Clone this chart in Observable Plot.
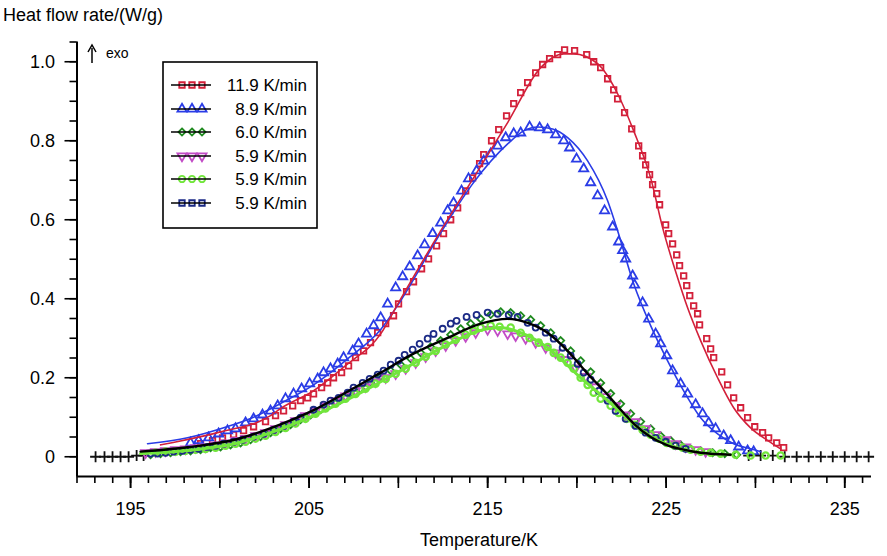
<!DOCTYPE html>
<html><head><meta charset="utf-8">
<script src="https://cdn.jsdelivr.net/npm/d3@7"></script>
<script src="https://cdn.jsdelivr.net/npm/@observablehq/plot@0.6"></script>
<style>body{margin:0;background:#fff;} svg{display:block;}</style>
</head><body><div id="chart"></div>
<script>
// ---- data (Temperature/K, Heat flow rate W/g) ----
const seriesLabels = ["11.9 K/min","8.9 K/min","6.0 K/min","5.9 K/min","5.9 K/min","5.9 K/min"];
const xTickLabels = [195,205,215,225,235];
const yTickLabels = [0,0.2,0.4,0.6,0.8,1.0];

const rate119 = [[198.92,0.033],[199.59,0.041],[200.15,0.048],[200.77,0.056],[201.33,0.066],[201.89,0.076],[202.56,0.089],[203.12,0.104],[203.57,0.116],[204.08,0.129],[204.52,0.142],[204.92,0.149],[205.25,0.159],[205.70,0.175],[206.04,0.187],[206.37,0.200],[206.82,0.213],[207.21,0.230],[207.60,0.251],[208.05,0.268],[208.44,0.289],[208.84,0.314],[209.29,0.337],[209.73,0.357],[210.01,0.387],[210.46,0.418],[210.85,0.443],[211.30,0.476],[211.69,0.501],[212.14,0.534],[212.53,0.565],[212.93,0.600],[213.32,0.630],[213.77,0.673],[214.16,0.706],[214.55,0.742],[214.78,0.765],[215.22,0.800],[215.62,0.828],[216.06,0.863],[216.46,0.894],[216.85,0.922],[217.24,0.947],[217.69,0.972],[218.08,0.993],[218.47,1.008],[218.92,1.018],[219.31,1.030],[219.87,1.028],[220.55,1.018],[220.94,1.000],[221.33,0.985],[221.72,0.957],[222.06,0.929],[222.28,0.906],[222.67,0.871],[223.07,0.830],[223.46,0.787],[223.68,0.762],[223.85,0.739],[224.07,0.714],[224.24,0.689],[224.47,0.666],[224.63,0.638],[224.97,0.587],[225.14,0.565],[225.36,0.539],[225.59,0.511],[225.75,0.484],[225.98,0.458],[226.15,0.433],[226.32,0.408],[226.54,0.382],[226.76,0.362],[226.87,0.334],[227.27,0.299],[227.49,0.273],[227.66,0.251],[228.11,0.215],[228.44,0.182],[228.78,0.149],[229.17,0.124],[229.56,0.099],[229.96,0.076],[230.40,0.061],[230.74,0.048],[231.19,0.035],[231.58,0.023]];

const rate89 = [[198.36,0.035],[198.81,0.041],[199.37,0.048],[199.93,0.058],[200.43,0.066],[200.88,0.071],[201.44,0.086],[201.89,0.096],[202.39,0.106],[202.84,0.116],[203.24,0.129],[203.68,0.147],[204.13,0.159],[204.58,0.172],[205.03,0.185],[205.48,0.197],[205.81,0.213],[206.20,0.223],[206.60,0.235],[206.93,0.251],[207.44,0.268],[207.77,0.286],[208.22,0.311],[208.61,0.332],[209.01,0.352],[209.40,0.387],[209.85,0.428],[210.24,0.456],[210.63,0.481],[211.08,0.509],[211.47,0.537],[211.92,0.565],[212.37,0.592],[212.76,0.623],[213.09,0.643],[213.54,0.673],[213.93,0.704],[214.38,0.724],[214.78,0.749],[215.17,0.767],[215.56,0.787],[216.01,0.808],[216.46,0.818],[216.85,0.820],[217.35,0.835],[217.91,0.833],[218.36,0.828],[218.81,0.815],[219.26,0.800],[219.59,0.782],[219.98,0.754],[220.38,0.729],[220.77,0.694],[221.16,0.661],[221.55,0.623],[222.00,0.582],[222.34,0.544],[222.56,0.522],[222.73,0.501],[223.12,0.458],[223.23,0.435],[223.68,0.390],[224.02,0.349],[224.41,0.311],[224.69,0.286],[225.03,0.256],[225.36,0.218],[225.81,0.185],[226.20,0.159],[226.65,0.132],[227.04,0.109],[227.38,0.086],[227.77,0.071],[228.22,0.053],[228.61,0.041],[229.06,0.025],[229.56,0.015],[229.90,0.013]];

const rate60 = [[193.04,0],[193.54,0],[193.99,0],[194.44,0],[194.89,0],[195.34,0.003],[195.73,0.003],[196.12,0.005],[196.68,0.008],[197.24,0.010],[197.80,0.013],[198.36,0.015],[198.92,0.018],[199.48,0.023],[200.04,0.025],[200.60,0.030],[201.16,0.035],[201.72,0.043],[202.28,0.051],[202.84,0.061],[203.40,0.071],[203.96,0.081],[204.52,0.094],[205.08,0.106],[205.64,0.119],[206.20,0.132],[206.76,0.144],[207.32,0.160],[207.88,0.172],[208.44,0.187],[209.01,0.203],[209.57,0.218],[210.13,0.233],[210.69,0.248],[211.25,0.263],[211.81,0.278],[212.37,0.294],[212.93,0.309],[213.49,0.324],[214.05,0.337],[214.61,0.349],[215.17,0.360],[215.73,0.367],[216.29,0.365],[216.85,0.357],[217.41,0.347],[217.97,0.332],[218.53,0.314],[219.09,0.294],[219.65,0.268],[220.21,0.243],[220.77,0.215],[221.33,0.187],[221.89,0.160],[222.45,0.134],[223.01,0.109],[223.57,0.089],[224.13,0.071],[224.69,0.053],[225.25,0.041],[225.81,0.030],[226.37,0.020],[226.93,0.015],[227.60,0.010],[228.28,0.008],[228.95,0.005],[229.62,0.003],[230.29,0.003],[230.97,0.003],[231.64,0],[232.31,0],[232.98,0],[233.66,0],[234.33,0],[235.00,0],[235.67,0],[236.34,0]];

const rate59a = [[195.84,0.010],[196.40,0.013],[196.96,0.015],[197.52,0.018],[198.08,0.020],[198.64,0.023],[199.20,0.025],[199.76,0.030],[200.32,0.035],[200.88,0.041],[201.44,0.046],[202.00,0.053],[202.56,0.061],[203.12,0.071],[203.68,0.081],[204.24,0.091],[204.80,0.104],[205.36,0.116],[205.92,0.129],[206.48,0.142],[207.04,0.154],[207.60,0.167],[208.16,0.177],[208.72,0.190],[209.29,0.200],[209.85,0.210],[210.41,0.223],[210.97,0.238],[211.53,0.253],[212.09,0.268],[212.65,0.281],[213.21,0.294],[213.77,0.304],[214.33,0.314],[215.00,0.322],[215.56,0.319],[216.12,0.311],[216.57,0.306],[217.13,0.299],[217.69,0.289],[218.25,0.276],[218.81,0.263],[219.37,0.246],[219.93,0.225],[220.49,0.203],[221.05,0.177],[221.61,0.152],[222.17,0.129],[222.73,0.106],[223.29,0.089],[223.85,0.071],[224.41,0.056],[224.97,0.043],[225.53,0.033],[226.09,0.025],[226.65,0.018],[227.21,0.013]];

const rate59b = [[196.40,0.010],[196.96,0.013],[197.52,0.013],[198.08,0.015],[198.64,0.018],[199.20,0.020],[199.76,0.023],[200.32,0.028],[200.88,0.033],[201.44,0.038],[202.00,0.046],[202.56,0.053],[203.12,0.063],[203.68,0.073],[204.24,0.084],[204.80,0.096],[205.36,0.109],[205.92,0.122],[206.48,0.134],[207.04,0.147],[207.60,0.159],[208.16,0.172],[208.72,0.185],[209.29,0.197],[209.85,0.210],[210.41,0.223],[210.97,0.238],[211.53,0.253],[212.09,0.268],[212.65,0.284],[213.21,0.296],[213.77,0.309],[214.21,0.319],[214.61,0.327],[215.17,0.332],[215.67,0.329],[216.29,0.327],[216.85,0.314],[217.35,0.301],[217.86,0.289],[218.36,0.278],[218.70,0.263],[219.09,0.251],[219.48,0.238],[219.82,0.223],[220.21,0.200],[220.60,0.182],[220.94,0.162],[221.33,0.147],[221.89,0.129],[222.34,0.111],[222.79,0.096],[223.23,0.081],[223.68,0.068],[224.13,0.056],[224.58,0.046],[225.03,0.035],[225.47,0.028],[225.92,0.023],[226.37,0.018],[226.93,0.013],[227.49,0.010],[228.05,0.008],[228.89,0.005],[229.73,0.003],[230.57,0.003],[231.41,0.003]];

const rate59c = [[196.12,0.008],[196.51,0.008],[196.96,0.010],[197.41,0.013],[197.91,0.015],[198.36,0.018],[198.81,0.020],[199.31,0.025],[199.76,0.028],[200.21,0.033],[200.77,0.038],[201.27,0.043],[201.89,0.051],[202.45,0.058],[203.01,0.068],[203.57,0.078],[204.13,0.089],[204.52,0.099],[205.25,0.119],[205.81,0.132],[206.20,0.142],[206.65,0.149],[207.16,0.162],[207.49,0.175],[208.00,0.187],[208.39,0.197],[208.84,0.208],[209.17,0.218],[209.57,0.233],[210.01,0.243],[210.35,0.258],[210.80,0.271],[211.19,0.286],[211.64,0.299],[211.97,0.311],[212.48,0.324],[212.93,0.337],[213.26,0.344],[213.82,0.354],[214.38,0.359],[215.00,0.365],[215.56,0.362],[216.18,0.359],[216.68,0.354],[217.24,0.339],[217.69,0.327],[218.25,0.314],[218.70,0.299],[219.20,0.276],[219.65,0.256],[220.04,0.235],[220.38,0.213],[220.77,0.195],[221.22,0.167],[221.72,0.142],[222.17,0.116],[222.73,0.096],[223.29,0.078],[223.85,0.061],[224.41,0.048],[224.97,0.038],[225.53,0.028],[226.09,0.020]];

// model fit curves
const fit119 = [[196.68,0.030],[197.24,0.035],[200.04,0.063],[202.84,0.104],[203.40,0.122],[205.25,0.167],[207.16,0.235],[209.01,0.311],[210.01,0.390],[212.37,0.572],[214.21,0.706],[216.12,0.846],[217.97,0.985],[219.26,1.020],[219.82,1.020],[221.16,0.995],[222.28,0.919],[223.18,0.825],[224.13,0.706],[224.80,0.580],[225.64,0.453],[226.20,0.377],[226.93,0.294],[227.88,0.200],[228.78,0.124],[229.73,0.073],[230.69,0.041],[231.41,0.020]];
const fit89 = [[195.95,0.033],[198.19,0.048],[200.04,0.071],[201.89,0.100],[203.40,0.135],[205.25,0.182],[207.16,0.248],[209.01,0.322],[210.13,0.395],[212.37,0.567],[214.21,0.694],[216.12,0.792],[217.02,0.825],[217.80,0.835],[218.64,0.830],[219.48,0.808],[220.60,0.749],[221.72,0.648],[222.28,0.572],[223.18,0.438],[224.13,0.332],[225.08,0.243],[225.98,0.167],[226.93,0.099],[227.88,0.058],[228.78,0.033],[229.73,0.020],[230.29,0.013]];
const fitBlack = [[195.56,0.013],[198.19,0.024],[200.99,0.045],[203.40,0.082],[205.25,0.118],[207.16,0.165],[209.01,0.213],[210.85,0.261],[212.76,0.301],[214.61,0.337],[216.12,0.349],[217.24,0.339],[218.36,0.314],[219.48,0.268],[220.60,0.210],[221.72,0.157],[222.39,0.122],[223.18,0.084],[224.13,0.050],[225.08,0.029],[225.98,0.018],[226.93,0.010],[228.61,0.005]];
const fitLime = [[195.56,0.008],[198.19,0.016],[200.99,0.035],[203.40,0.070],[205.25,0.104],[207.16,0.145],[209.01,0.190],[210.85,0.236],[212.76,0.284],[214.61,0.320],[215.73,0.327],[216.85,0.314],[218.36,0.276],[220.21,0.200],[222.06,0.129],[223.18,0.083],[224.13,0.052],[225.08,0.031],[225.98,0.018],[226.93,0.010],[228.61,0.005]];

// ---- build ----
const toObj = a => a.map(([x,y]) => ({x, y}));
const colors = {red:"#d3203a", blue:"#2a3ce6", green:"#1f8a1f", magenta:"#c24cc6", lime:"#72e63c", navy:"#1b2a86"};
const d60 = toObj(rate60);
const d60main = d60.filter(d => d.y > 0.004);
const d60tail = d60.filter(d => d.y <= 0.004);

const minorX = d3.range(192, 237, 1);
const midX = d3.range(195, 236, 5);
const minorY = d3.range(0, 22).map(i => +(i*0.05).toFixed(2));

const plot = Plot.plot({
  width: 887, height: 556,
  marginLeft: 76.5, marginRight: 16, marginTop: 41.5, marginBottom: 80,
  x: {domain: [192, 236.5]},
  y: {domain: [-0.05, 1.05]},
  style: {fontFamily: "'Liberation Sans', Arial, sans-serif", fontSize: "18px", color: "#000", background: "#fff", overflow: "visible"},
  marks: [
    Plot.axisX({ticks: minorX, tickSize: 7, tickFormat: () => "", label: null, strokeWidth: 1.6}),
    Plot.axisX({ticks: midX, tickSize: 12, tickFormat: () => "", label: null, strokeWidth: 1.6}),
    Plot.axisX({ticks: xTickLabels, tickSize: 12, tickPadding: 14, label: null, strokeWidth: 1.6, fontSize: 18}),
    Plot.axisY({ticks: minorY, tickSize: 7, tickFormat: () => "", label: null, strokeWidth: 1.6}),
    Plot.axisY({ticks: yTickLabels, tickSize: 12, tickPadding: 10, label: null, strokeWidth: 1.6, fontSize: 18,
      tickFormat: d => d === 0 ? "0" : d.toFixed(1)}),
    Plot.ruleX([192], {strokeWidth: 2}),
    Plot.ruleY([-0.05], {strokeWidth: 2}),
    // measured data markers
    Plot.dot(toObj(rate119), {x: "x", y: "y", symbol: "square", r: 3.1, stroke: colors.red, strokeWidth: 1.8, fill: "none"}),
    Plot.dot(toObj(rate89), {x: "x", y: "y", symbol: "triangle", r: 3.4, stroke: colors.blue, strokeWidth: 1.8, fill: "none"}),
    Plot.dot(d60main, {x: "x", y: "y", symbol: "diamond2", r: 3.2, stroke: colors.green, strokeWidth: 1.8, fill: "none"}),
    Plot.dot(d60tail, {x: "x", y: "y", symbol: "plus", r: 3.6, stroke: "#111", strokeWidth: 1.8}),
    Plot.dot(toObj(rate59a), {x: "x", y: "y", symbol: "triangle", rotate: 180, r: 3.3, stroke: colors.magenta, strokeWidth: 1.8, fill: "none"}),
    Plot.dot(toObj(rate59b), {x: "x", y: "y", symbol: "circle", r: 3.2, stroke: colors.lime, strokeWidth: 2.2, fill: "none"}),
    Plot.dot(toObj(rate59c), {x: "x", y: "y", symbol: "circle", r: 3.0, stroke: colors.navy, strokeWidth: 1.8, fill: "none"}),
    // fitted curves
    Plot.line(toObj(fitLime), {x: "x", y: "y", stroke: colors.lime, strokeWidth: 3, curve: "monotone-x"}),
    Plot.line(toObj(fitBlack), {x: "x", y: "y", stroke: "#000", strokeWidth: 2.4, curve: "monotone-x"}),
    Plot.line(toObj(fit89), {x: "x", y: "y", stroke: colors.blue, strokeWidth: 1.6, curve: "monotone-x"}),
    Plot.line(toObj(fit119), {x: "x", y: "y", stroke: colors.red, strokeWidth: 1.6, curve: "monotone-x"})
  ]
});
document.getElementById("chart").appendChild(plot);

// ---- annotations & legend ----
const svg = d3.select(plot);
const font = "'Liberation Sans', Arial, sans-serif";
svg.append("text").attr("x", 3).attr("y", 21).attr("text-anchor", "start").attr("font-family", font).attr("font-size", 18).attr("fill", "#000").text("Heat flow rate/(W/g)");
svg.append("text").attr("x", 479).attr("y", 546).attr("text-anchor", "middle").attr("font-family", font).attr("font-size", 18).attr("fill", "#000").text("Temperature/K");
// exo arrow
svg.append("line").attr("x1", 92).attr("x2", 92).attr("y1", 63).attr("y2", 48).attr("stroke", "#000").attr("stroke-width", 1.5);
svg.append("path").attr("d", "M88,52 L92,45 L96,52").attr("fill", "none").attr("stroke", "#000").attr("stroke-width", 1.5);
svg.append("text").attr("x", 106).attr("y", 58).attr("text-anchor", "start").attr("font-family", font).attr("font-size", 14).attr("fill", "#000").text("exo");

const leg = svg.append("g");
leg.append("rect").attr("x", 163).attr("y", 62).attr("width", 154).attr("height", 166).attr("fill", "#fff").attr("stroke", "#000").attr("stroke-width", 1.6);
const legSym = [
  {t: d3.symbolSquare, c: colors.red, rot: 0, s: 30},
  {t: d3.symbolTriangle, c: colors.blue, rot: 0, s: 36},
  {t: d3.symbolDiamond2, c: colors.green, rot: 0, s: 32},
  {t: d3.symbolTriangle, c: colors.magenta, rot: 180, s: 36},
  {t: d3.symbolCircle, c: colors.lime, rot: 0, s: 32},
  {t: d3.symbolSquare, c: colors.navy, rot: 0, s: 30}
];
const legY = [85, 109, 132, 156, 179, 203];
seriesLabels.forEach((lab, i) => {
  const y = legY[i];
  const g = leg.append("g");
  [182, 192, 202].forEach(x => {
    g.append("path").attr("d", d3.symbol(legSym[i].t, legSym[i].s)())
      .attr("transform", `translate(${x},${y}) rotate(${legSym[i].rot})`)
      .attr("fill", "none").attr("stroke", legSym[i].c).attr("stroke-width", 1.8);
  });
  g.append("line").attr("x1", 171).attr("x2", 211).attr("y1", y).attr("y2", y).attr("stroke", "#000").attr("stroke-width", 1.5);
  g.append("text").attr("x", 307).attr("y", y).attr("dy", "0.35em").attr("text-anchor", "end")
    .attr("font-family", font).attr("font-size", 17).attr("fill", "#000").text(lab);
});
</script></body></html>
